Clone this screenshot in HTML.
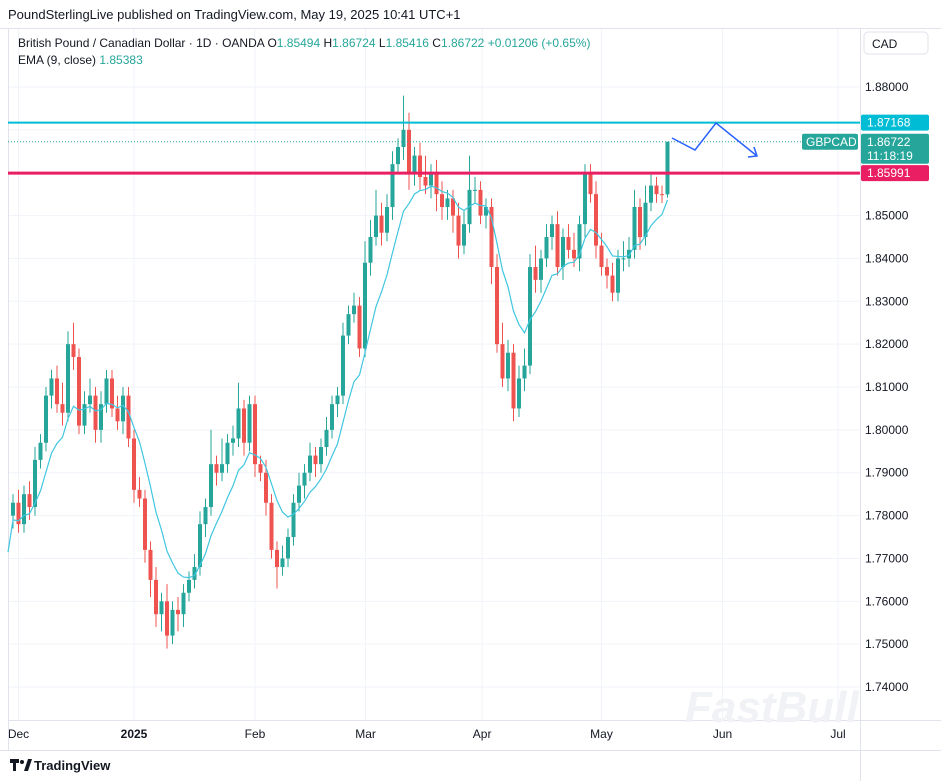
<!DOCTYPE html>
<html><head><meta charset="utf-8">
<style>
body{margin:0;background:#fff;font-family:"Liberation Sans",sans-serif;}
#wrap{position:relative;width:941px;height:781px;overflow:hidden;}
svg text{font-family:"Liberation Sans",sans-serif;}
</style></head><body>
<div id="wrap">
<svg id="chart" width="941" height="781"></svg>
</div>
<script>
const closes=[1.783,1.778,1.785,1.782,1.793,1.797,1.808,1.812,1.806,1.804,1.820,1.817,1.801,1.806,1.808,1.800,1.806,1.812,1.805,1.802,1.808,
1.798,1.786,1.784,1.772,1.765,1.757,1.760,1.752,1.758,1.757,1.762,1.765,1.768,1.778,1.782,1.792,1.790,1.792,1.797,1.798,1.805,1.797,
1.806,1.792,1.790,1.783,1.772,1.768,1.770,1.775,1.783,1.787,1.790,1.794,1.792,1.796,1.800,1.806,1.808,1.822,1.827,1.829,
1.819,1.839,1.845,1.850,1.846,1.852,1.862,1.866,1.870,1.860,1.864,1.859,1.857,1.860,1.855,1.852,1.854,1.850,1.843,1.848,1.856,
1.856,1.850,1.852,1.838,1.820,1.812,1.818,1.805,1.812,1.815,1.838,1.835,1.840,1.845,1.848,1.838,1.845,1.842,1.840,1.848,1.860,1.855,
1.843,1.838,1.836,1.832,1.840,1.840,1.842,1.852,1.845,1.853,1.857,1.855,1.85494,1.86722];
const firstOpen=1.780;
const wickUp=[2,3,2,3,3,2,2,2,3,5,3,5,2,3,4,2,3,2,2,3,2,
2,2,3,2,2,3,2,4,2,3,2,2,3,3,2,8,2,6,2,3,6,2,
2,2,2,3,2,2,3,2,2,3,2,3,2,2,3,2,2,3,2,3,
2,5,4,6,3,3,3,2,8,4,2,3,5,2,3,3,2,2,3,3,8,
3,2,2,2,3,5,3,2,3,4,3,5,2,3,2,3,2,3,4,2,2,2,
3,3,2,3,2,4,3,4,2,4,3,2,2,0.02];
const wickDn=[3,2,2,3,2,2,2,3,2,3,2,3,2,2,2,3,3,2,2,2,3,
2,3,2,3,4,3,4,3,2,4,3,2,2,2,3,2,3,2,2,3,2,3,
2,3,2,3,2,5,2,2,2,2,3,2,3,2,2,2,3,2,2,2,
2,2,3,2,3,2,3,2,3,4,3,3,2,3,4,3,3,4,3,2,2,
3,2,3,4,2,2,3,3,2,3,2,3,3,2,3,2,3,2,2,3,3,2,
3,2,3,2,2,3,2,2,3,2,2,2,2,0.78];
const priceTicks=[1.74,1.75,1.76,1.77,1.78,1.79,1.80,1.81,1.82,1.83,1.84,1.85,1.86,1.87,1.88];
const monthLabels=["Dec","2025","Feb","Mar","Apr","May","Jun","Jul"];
const monthIdx=[1,22,44,64.1,85.3,107,129,150];
const resistance=1.87168, support=1.85991, lastPrice=1.86722, emaLast=1.85383;

const NS="http://www.w3.org/2000/svg";
const svg=document.getElementById('chart');
const yOf=p=>87+(1.88-p)*4286;
const xOf=i=>13+i*5.5;
function mk(tag,attrs,parent){const e=document.createElementNS(NS,tag);for(const k in attrs)e.setAttribute(k,attrs[k]);(parent||svg).appendChild(e);return e;}
function txt(x,y,s,attrs){const t=mk('text',Object.assign({x:x,y:y},attrs||{}));t.textContent=s;return t;}

priceTicks.forEach((p,i)=>{
 const l=mk('line',{x1:8,x2:860,y1:yOf(p),y2:yOf(p),stroke:'#f0f3fa','stroke-width':1});
 
 
 const t=txt(865,yOf(p)+4,p.toFixed(5),{'font-size':12,fill:'#131722'});
 
 
});
monthIdx.forEach((m,i)=>{
 const x=xOf(m);
 const l=mk('line',{x1:x,x2:x,y1:28,y2:720,stroke:'#f0f3fa','stroke-width':1});
 
 
 const t=txt(x,738,monthLabels[i],{'font-size':12,fill:'#131722','text-anchor':'middle','font-weight':monthLabels[i]==='2025'?'bold':'normal'});
 
 
});
mk('line',{x1:860.5,x2:860.5,y1:28,y2:781,stroke:'#e0e3eb'});
mk('line',{x1:8,x2:941,y1:720.5,y2:720.5,stroke:'#e0e3eb'});
mk('line',{x1:8.5,x2:8.5,y1:28,y2:750,stroke:'#e0e3eb'});
mk('line',{x1:0,x2:941,y1:750.5,y2:750.5,stroke:'#e0e3eb'});
mk('line',{x1:0,x2:941,y1:28.5,y2:28.5,stroke:'#e0e3eb'});

const wm=txt(685,722,"FastBull",{'font-size':44,'font-weight':'bold',fill:'#f0f2f5','font-style':'italic'});



let prev=firstOpen;
const opens=[];
closes.forEach((c,i)=>{opens.push(prev);prev=c;});
closes.forEach((c,i)=>{
 const o=opens[i];
 const hi=Math.max(o,c)+wickUp[i]/1000, lo=Math.min(o,c)-wickDn[i]/1000;
 const up=c>=o, col=up?'#26a69a':'#ef5350', x=xOf(i);
 const g=mk('g',{});
 
 
 mk('line',{x1:x,x2:x,y1:yOf(hi),y2:yOf(lo),stroke:col,'stroke-width':1},g);
 const top=yOf(Math.max(o,c)), h=Math.max(1,yOf(Math.min(o,c))-top);
 mk('rect',{x:x-2,y:top,width:4,height:h,fill:col},g);
});
let ema=closes[0]-0.005, pts=[];
const k=2/10;
closes.forEach((c,i)=>{ema=c*k+ema*(1-k);pts.push(xOf(i)+','+yOf(ema));});
const emaL=mk('polyline',{points:'8,'+(yOf(1.7715))+' '+pts.join(' '),fill:'none',stroke:'#3fc6e0','stroke-width':1.2});



const rl=mk('line',{x1:8,x2:860,y1:yOf(resistance),y2:yOf(resistance),stroke:'#00bcd4','stroke-width':2});


const sl=mk('line',{x1:8,x2:860,y1:yOf(support),y2:yOf(support),stroke:'#e91e63','stroke-width':3});


const pl=mk('line',{x1:8,x2:860,y1:yOf(lastPrice),y2:yOf(lastPrice),stroke:'#26a69a','stroke-width':1,'stroke-dasharray':'1,2'});



const ar=mk('polyline',{points:'672,138 695,150 716,123 757,156',fill:'none',stroke:'#2962ff','stroke-width':1.5});


mk('polyline',{points:'748,157 757,156 754,147',fill:'none',stroke:'#2962ff','stroke-width':1.5});

function plabel(y,h,bg,lines,name){
 const g=mk('g',{});
 
 
 mk('rect',{x:861,y:y,width:68,height:h,rx:2,fill:bg},g);
 lines.forEach((s,i)=>{const t=mk('text',{x:867,y:y+12+i*14,'font-size':12,fill:'#fff'},g);t.textContent=s;});
}
// mask covered tick labels
mk('rect',{x:861,y:yOf(1.87)-8,width:70,height:16,fill:'#fff'});
mk('rect',{x:861,y:yOf(1.86)-8,width:70,height:16,fill:'#fff'});
plabel(yOf(resistance)-8,16,'#00bcd4',[resistance.toFixed(5)],'resistance-label');
plabel(yOf(lastPrice)-8,30,'#26a69a',[lastPrice.toFixed(5),'11:18:19'],'last-price-label');
plabel(yOf(support)-8,16,'#e91e63',[support.toFixed(5)],'support-label');
const sy=mk('rect',{x:802,y:yOf(lastPrice)-8,width:56,height:16,rx:2,fill:'#26a69a'});


txt(806,yOf(lastPrice)+4,'GBPCAD',{'font-size':12,fill:'#fff'});

const h1=txt(8,19,'PoundSterlingLive published on TradingView.com, May 19, 2025 10:41 UTC+1',{'font-size':13,fill:'#131722'});


const h2=mk('text',{x:18,y:47,'font-size':12,fill:'#131722'});


h2.innerHTML='British Pound / Canadian Dollar · 1D · OANDA  O<tspan fill="#26a69a">1.85494</tspan>  H<tspan fill="#26a69a">1.86724</tspan>  L<tspan fill="#26a69a">1.85416</tspan>  C<tspan fill="#26a69a">1.86722</tspan>  <tspan fill="#26a69a">+0.01206 (+0.65%)</tspan>';
const h3=mk('text',{x:18,y:64,'font-size':12,fill:'#131722'});


h3.innerHTML='EMA (9, close)  <tspan fill="#26a69a">'+emaLast.toFixed(5)+'</tspan>';
const cb=mk('rect',{x:864,y:32,width:64,height:22,rx:4,fill:'#fff',stroke:'#e0e3eb'});


txt(872,48,'CAD',{'font-size':12,fill:'#131722'});
const lg=mk('g',{});


mk('path',{d:'M10 759h9v4h-3v8h-3v-8h-3z',fill:'#131722'},lg);
mk('circle',{cx:22,cy:762,r:2,fill:'#131722'},lg);
mk('path',{d:'M24 771l4-12h4l-4 12z',fill:'#131722'},lg);
const lt=mk('text',{x:34,y:770,'font-size':13,fill:'#131722','font-weight':'bold'},lg);
lt.textContent='TradingView';
</script>
</body></html>
